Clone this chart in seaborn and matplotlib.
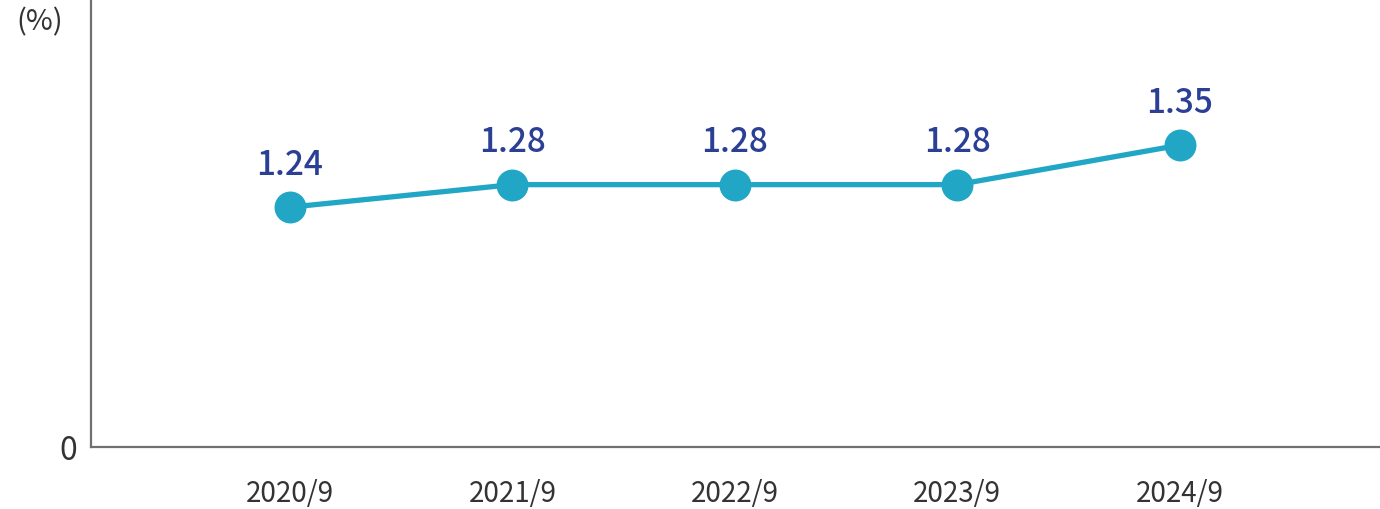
import matplotlib
matplotlib.use('Agg')
import matplotlib.pyplot as plt
import seaborn as sns
import pandas as pd

# data
periods = ['2020/9', '2021/9', '2022/9', '2023/9', '2024/9']
ratios = [1.24, 1.28, 1.28, 1.28, 1.35]

LINE_COLOR = '#21a7c5'
LABEL_COLOR = '#2b3f94'
AXIS_COLOR = '#707070'
TEXT_COLOR = '#333333'

sns.set_style('white')
plt.rcParams['font.family'] = ['Noto Sans CJK JP', 'DejaVu Sans']

df = pd.DataFrame({'x': range(len(periods)), 'ratio': ratios})

fig = plt.figure(figsize=(13.8, 5.1), dpi=100)
ax = fig.add_axes([91 / 1380, 62 / 510, 1 - 91 / 1380, 448 / 510])

sns.lineplot(data=df, x='x', y='ratio', ax=ax, color=LINE_COLOR, linewidth=3.8,
             marker='o', markersize=23, markeredgewidth=0, markerfacecolor=LINE_COLOR)

for xi, v in zip(df['x'], df['ratio']):
    ax.annotate(f'{v:.2f}', (xi, v), xytext=(0, 31), textcoords='offset points',
                ha='center', va='center', fontsize=24, fontweight='medium',
                color=LABEL_COLOR)

# y axis is cut: bottom of the axis stands for 0
ax.set_xlim(-0.894, 4.9)
ax.set_ylim(0.815, 1.609)
ax.set_yticks([0.815])
ax.set_yticklabels(['0'], fontsize=23, color=TEXT_COLOR)
ax.set_xticks(df['x'])
ax.set_xticklabels(periods, fontsize=20, color=TEXT_COLOR)
ax.tick_params(axis='x', direction='in', length=6, width=1.5, color=AXIS_COLOR, pad=22)
ax.tick_params(axis='y', length=0, pad=10)
ax.set_xlabel('')
ax.set_ylabel('')

for side in ['top', 'right']:
    ax.spines[side].set_visible(False)
for side in ['left', 'bottom']:
    ax.spines[side].set_color(AXIS_COLOR)
    ax.spines[side].set_linewidth(1.6)

fig.text(40 / 1380, 1 - 22 / 510, '(%)', ha='center', va='center',
         fontsize=21, color=TEXT_COLOR)

fig.savefig('out.png', dpi=100)
